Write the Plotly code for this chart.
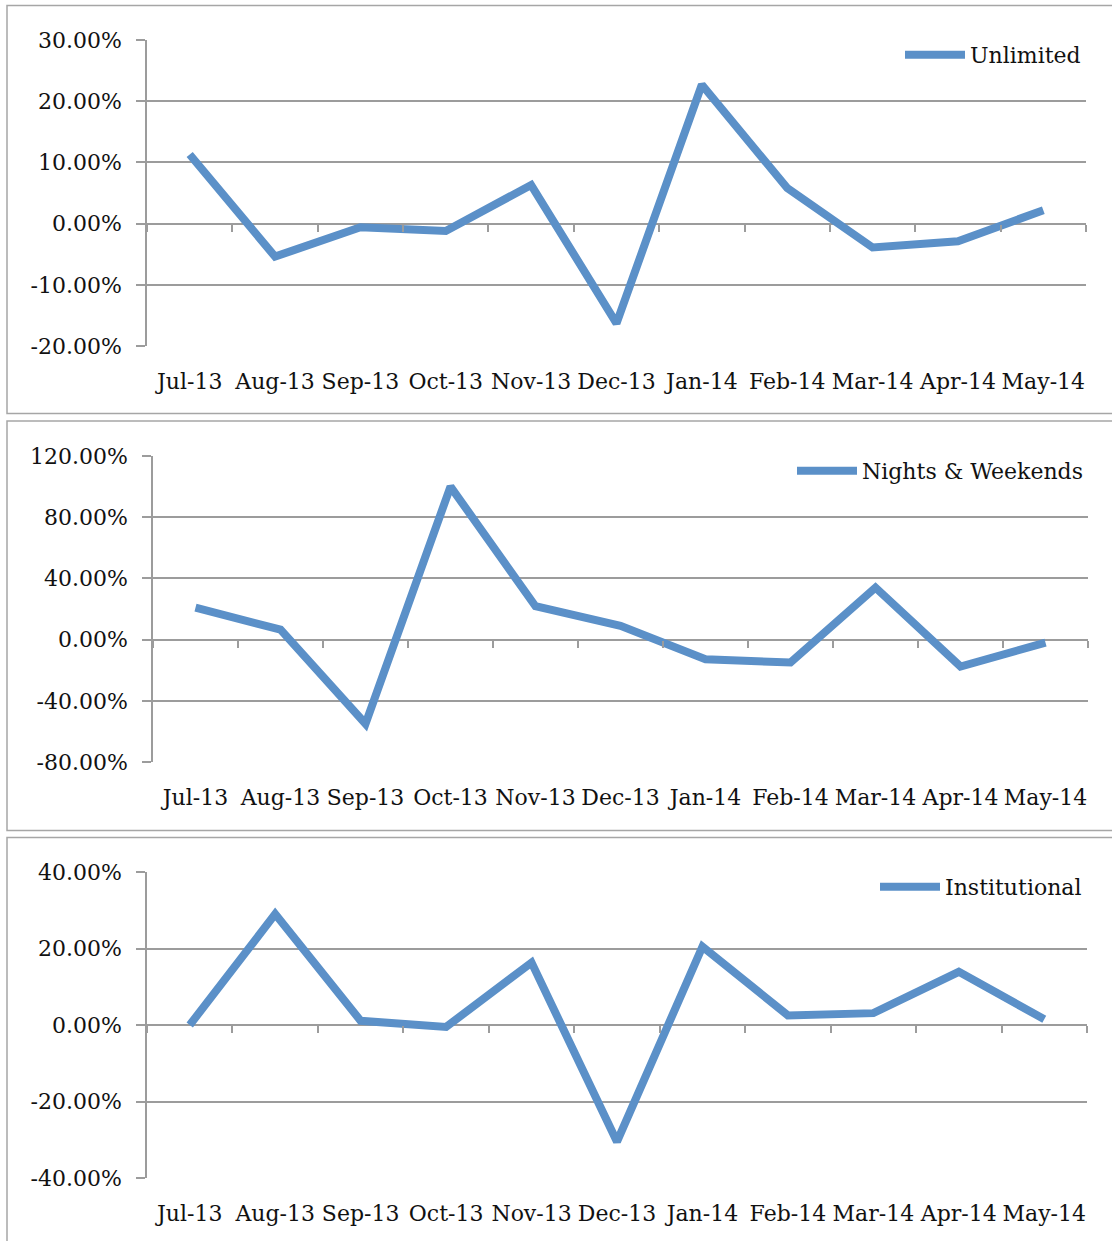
import plotly.graph_objects as go

months = ["Jul-13", "Aug-13", "Sep-13", "Oct-13", "Nov-13", "Dec-13",
          "Jan-14", "Feb-14", "Mar-14", "Apr-14", "May-14"]
unlimited = [0.113, -0.054, -0.006, -0.012, 0.063, -0.163, 0.227, 0.058, -0.039, -0.029, 0.022]
nights_weekends = [0.209, 0.065, -0.550, 1.000, 0.218, 0.090, -0.128, -0.150, 0.340, -0.176, -0.020]
institutional = [0.000, 0.290, 0.011, -0.005, 0.163, -0.305, 0.205, 0.025, 0.031, 0.139, 0.015]

unlimited_ticks = [-0.2, -0.1, 0.0, 0.1, 0.2, 0.3]
nights_ticks = [-0.8, -0.4, 0.0, 0.4, 0.8, 1.2]
institutional_ticks = [-0.4, -0.2, 0.0, 0.2, 0.4]

W, H = 1112, 1241
LINE = "#5B90C8"
GRID = "#9c9c9c"
FONT = "DejaVu Serif"
FS = 22
TXT = "#111111"

panels = [
    dict(name="Unlimited", vals=unlimited, ticks=unlimited_ticks,
         px=(147, 1086), py=(40, 346), box=(5.5, 413.5)),
    dict(name="Nights & Weekends", vals=nights_weekends, ticks=nights_ticks,
         px=(153, 1088), py=(456, 762), box=(421, 830.5)),
    dict(name="Institutional", vals=institutional, ticks=institutional_ticks,
         px=(147, 1087), py=(872, 1178), box=(837.5, 1260)),
]


def pct(v):
    return f"{v * 100:.2f}%"


fig = go.Figure()
layout = dict(width=W, height=H, margin=dict(l=0, r=0, t=0, b=0, autoexpand=False),
              paper_bgcolor="white", plot_bgcolor="white", showlegend=True,
              font=dict(family=FONT, size=FS, color=TXT), shapes=[])

xrange = [-0.5, len(months) - 0.5]

for i, p in enumerate(panels):
    n = i + 1
    sfx = "" if n == 1 else str(n)
    tick_sfx = str(n + 3)
    xd = [p["px"][0] / W, p["px"][1] / W]
    yd = [1 - p["py"][1] / H, 1 - p["py"][0] / H]
    lo, hi = min(p["ticks"]), max(p["ticks"])
    zero_pos = yd[0] + (0 - lo) / (hi - lo) * (yd[1] - yd[0])
    legend_key = "legend" if n == 1 else "legend" + str(n)

    fig.add_trace(go.Scatter(
        x=months, y=p["vals"], mode="lines", name=p["name"],
        line=dict(color=LINE, width=8), xaxis="x" + sfx, yaxis="y" + sfx,
        legend=legend_key, hoverinfo="x+y"))
    # invisible companion trace for the zero-line tick axis
    fig.add_trace(go.Scatter(
        x=months, y=p["vals"], mode="lines", line=dict(width=0),
        opacity=0, showlegend=False, hoverinfo="skip",
        xaxis="x" + tick_sfx, yaxis="y" + sfx))

    layout["xaxis" + sfx] = dict(
        domain=xd, anchor="y" + sfx, type="category", range=xrange, showgrid=False,
        zeroline=False, showline=False, ticks="outside", ticklen=16,
        tickcolor="rgba(0,0,0,0)", tickfont=dict(family=FONT, size=FS, color=TXT),
        automargin=False, fixedrange=True)
    layout["xaxis" + tick_sfx] = dict(
        domain=xd, anchor="free", position=zero_pos, overlaying="x" + sfx,
        type="category", range=xrange, tickson="boundaries", ticks="outside", ticklen=7,
        tickwidth=1.5, tickcolor=GRID, showticklabels=False, showgrid=False,
        zeroline=False, showline=False, automargin=False, fixedrange=True)
    layout["yaxis" + sfx] = dict(
        domain=yd, anchor="x" + sfx, range=[lo, hi],
        tickmode="array", tickvals=p["ticks"], ticktext=[pct(v) for v in p["ticks"]],
        showgrid=True, gridcolor=GRID, gridwidth=1.5,
        zeroline=False, showline=True, linecolor=GRID, linewidth=1.5,
        ticks="outside", ticklen=9, tickwidth=1.5, tickcolor=GRID,
        ticklabelstandoff=10, automargin=False,
        tickfont=dict(family=FONT, size=FS, color=TXT), fixedrange=True)
    layout[legend_key] = dict(
        x=xd[1], xanchor="right", y=yd[1] + 6 / H, yanchor="top",
        bgcolor="rgba(0,0,0,0)", borderwidth=0, itemwidth=60,
        font=dict(family=FONT, size=FS, color=TXT),
        tracegroupgap=0, itemclick=False, itemdoubleclick=False)
    layout["shapes"].append(dict(
        type="rect", xref="paper", yref="paper",
        x0=7 / W, x1=1.02, y0=1 - p["box"][1] / H, y1=1 - p["box"][0] / H,
        line=dict(color="#a6a6a6", width=1.5), fillcolor="rgba(0,0,0,0)",
        layer="below"))

fig.update_layout(**layout)
fig.write_html("out.html", config={"displayModeBar": False},
               post_script="document.body.style.margin='0';document.body.style.padding='0';")
